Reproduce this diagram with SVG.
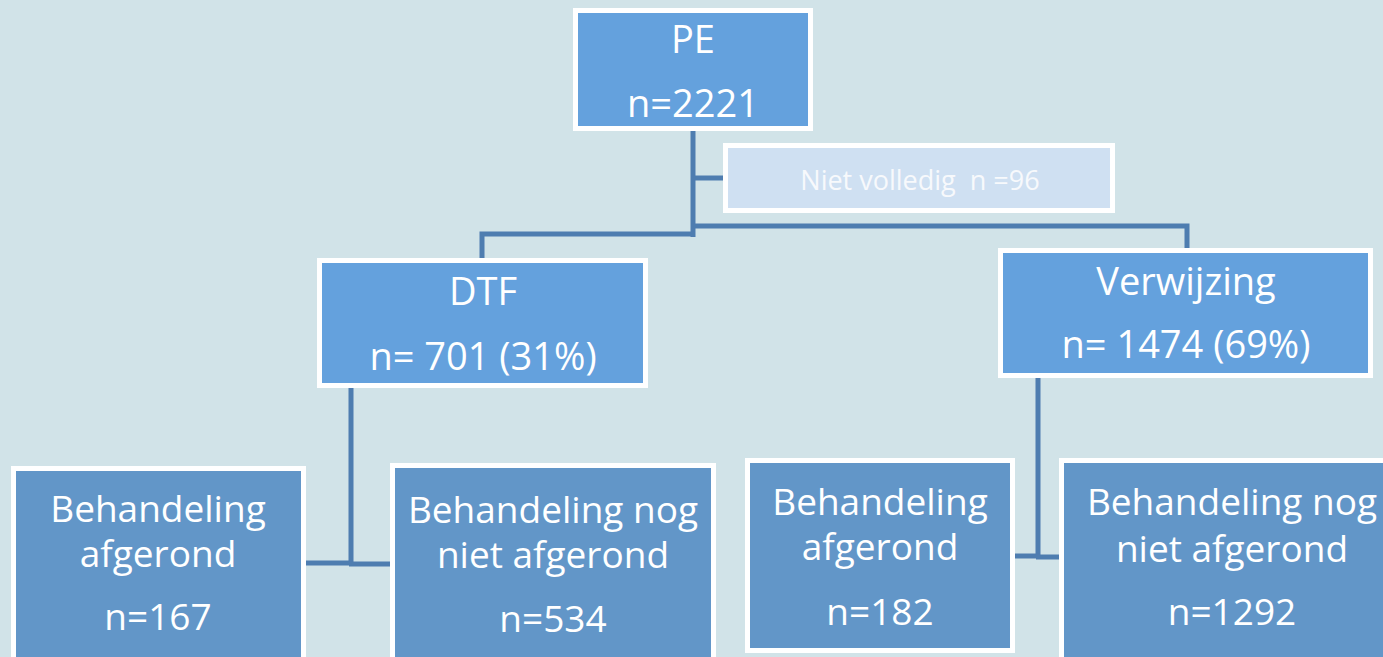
<svg xmlns="http://www.w3.org/2000/svg" width="1383" height="657" viewBox="0 0 1383 657">
<style>
.bg{fill:#d1e3e8}
.top{fill:#64a1dd;stroke:#ffffff;stroke-width:5}
.bot{fill:#6296c8;stroke:#ffffff;stroke-width:5}
.light{fill:#cfe0f2;stroke:#ffffff;stroke-width:5}
.t{font-family:"Open Sans","Liberation Sans",sans-serif;font-size:37px;fill:#ffffff;text-anchor:middle}
.tt{font-family:"Open Sans","Liberation Sans",sans-serif;font-size:38px;fill:#ffffff;text-anchor:middle}
.s{font-family:"Open Sans","Liberation Sans",sans-serif;font-size:27px;fill:#f7f9fc;text-anchor:middle}
.c{fill:none;stroke:#4e7db0;stroke-width:5}
</style>
<rect class="bg" x="0" y="0" width="1383" height="657"/>
<g id="connectors">
<path class="c" d="M693 131 V237"/>
<path class="c" d="M693 178 H724"/>
<path class="c" d="M695 234 H482 V259"/>
<path class="c" d="M691 226 H1187 V249"/>
<path class="c" d="M351 388 V565"/>
<path class="c" d="M306 563 H351"/>
<path class="c" d="M349 564 H391"/>
<path class="c" d="M1038 378 V558"/>
<path class="c" d="M1015 556 H1040"/>
<path class="c" d="M1036 557 H1060"/>
</g>
<g id="pe">
<rect class="top" x="575.5" y="10.5" width="235" height="118"/>
<text class="tt" x="693" y="53">PE</text>
<text class="tt" x="693" y="117">n=2221</text>
</g>
<g id="niet-volledig">
<rect class="light" x="725.5" y="145.5" width="387" height="65"/>
<text class="s" x="920" y="190" xml:space="preserve">Niet volledig  n =96</text>
</g>
<g id="dtf">
<rect class="top" x="319.5" y="260.5" width="326" height="125"/>
<text class="tt" x="483" y="305">DTF</text>
<text class="tt" x="483" y="370">n= 701 (31%)</text>
</g>
<g id="verwijzing">
<rect class="top" x="1000.5" y="250.5" width="370" height="125"/>
<text class="tt" x="1186" y="295">Verwijzing</text>
<text class="tt" x="1186" y="358">n= 1474 (69%)</text>
</g>
<g id="dtf-afgerond">
<rect class="bot" x="13.5" y="468.5" width="290" height="200"/>
<text class="t" x="158" y="522">Behandeling</text>
<text class="t" x="158" y="567">afgerond</text>
<text class="t" x="158" y="630">n=167</text>
</g>
<g id="dtf-niet-afgerond">
<rect class="bot" x="392.5" y="465.5" width="321" height="200"/>
<text class="t" x="553" y="523">Behandeling nog</text>
<text class="t" x="553" y="568">niet afgerond</text>
<text class="t" x="553" y="632">n=534</text>
</g>
<g id="verw-afgerond">
<rect class="bot" x="747.5" y="460.5" width="265" height="190"/>
<text class="t" x="880" y="515">Behandeling</text>
<text class="t" x="880" y="560">afgerond</text>
<text class="t" x="880" y="625">n=182</text>
</g>
<g id="verw-niet-afgerond">
<rect class="bot" x="1061.5" y="460.5" width="330" height="200"/>
<text class="t" x="1232" y="515">Behandeling nog</text>
<text class="t" x="1232" y="562">niet afgerond</text>
<text class="t" x="1232" y="625">n=1292</text>
</g>
</svg>
